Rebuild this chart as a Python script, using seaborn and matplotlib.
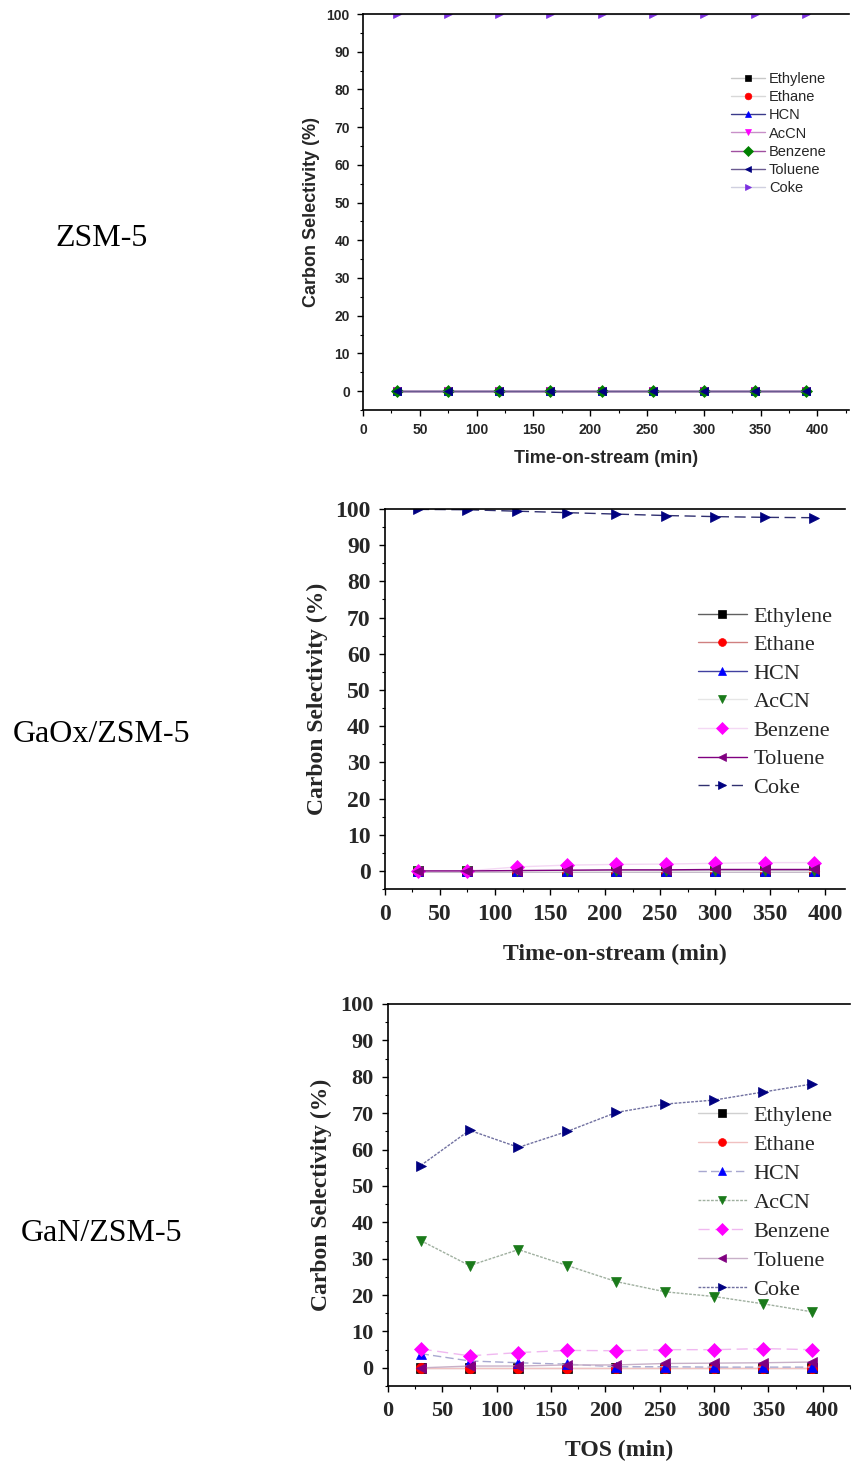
import numpy as np
import matplotlib
matplotlib.use("Agg")
import matplotlib.pyplot as plt
from matplotlib.ticker import MultipleLocator
import seaborn as sns

sns.set_theme(style="ticks")

# ---------------- data ----------------
tos = [30, 75, 120, 165, 210, 255, 300, 345, 390]
species = ["Ethylene", "Ethane", "HCN", "AcCN", "Benzene", "Toluene", "Coke"]
row_labels = ["ZSM-5", "GaOx/ZSM-5", "GaN/ZSM-5"]
xlabels = ["Time-on-stream (min)", "Time-on-stream (min)", "TOS (min)"]
ylabel = "Carbon Selectivity (%)"

zsm5_ethylene = [0, 0, 0, 0, 0, 0, 0, 0, 0]
zsm5_ethane = [0, 0, 0, 0, 0, 0, 0, 0, 0]
zsm5_hcn = [0, 0, 0, 0, 0, 0, 0, 0, 0]
zsm5_accn = [0, 0, 0, 0, 0, 0, 0, 0, 0]
zsm5_benzene = [0, 0, 0, 0, 0, 0, 0, 0, 0]
zsm5_toluene = [0, 0, 0, 0, 0, 0, 0, 0, 0]
zsm5_coke = [100, 100, 100, 100, 100, 100, 100, 100, 100]

gaox_ethylene = [0, 0, 0, 0, 0, 0, 0, 0, 0]
gaox_ethane = [0, 0, 0, 0, 0, 0, 0, 0, 0]
gaox_hcn = [0, 0, 0, 0, 0, 0, 0, 0, 0]
gaox_accn = [0, 0, 0, 0, 0, 0, 0, 0, 0]
gaox_benzene = [0, 0, 1.1, 1.6, 1.8, 1.9, 2.1, 2.3, 2.3]
gaox_toluene = [0, 0, 0.1, 0.2, 0.3, 0.3, 0.4, 0.4, 0.4]
gaox_coke = [99.9, 99.8, 99.4, 99.0, 98.6, 98.2, 97.9, 97.7, 97.6]

gan_ethylene = [0, 0, 0, 0, 0, 0, 0, 0, 0]
gan_ethane = [0, 0, 0, 0, 0, 0, 0, 0, 0]
gan_hcn = [3.9, 1.9, 1.4, 1.0, 0.3, 0.3, 0.2, 0.2, 0.2]
gan_accn = [35.0, 28.1, 32.5, 28.1, 23.7, 20.9, 19.6, 17.6, 15.4]
gan_benzene = [5.2, 3.3, 4.2, 4.8, 4.7, 5.0, 5.0, 5.3, 5.0]
gan_toluene = [0, 0.5, 0.5, 0.8, 0.8, 1.2, 1.3, 1.4, 1.6]
gan_coke = [55.6, 65.3, 60.6, 65.0, 70.2, 72.5, 73.6, 75.8, 78.0]

panels = [
    [zsm5_ethylene, zsm5_ethane, zsm5_hcn, zsm5_accn, zsm5_benzene, zsm5_toluene, zsm5_coke],
    [gaox_ethylene, gaox_ethane, gaox_hcn, gaox_accn, gaox_benzene, gaox_toluene, gaox_coke],
    [gan_ethylene, gan_ethane, gan_hcn, gan_accn, gan_benzene, gan_toluene, gan_coke],
]

# ---------------- styles ----------------
markers = ["s", "o", "^", "v", "D", "<", ">"]
marker_colors = [
    ["#000000", "#ff0000", "#0000ff", "#ff00ff", "#008000", "#000080", "#7b2fe0"],
    ["#000000", "#ff0000", "#0000ff", "#1a7a1a", "#ff00ff", "#800080", "#000080"],
    ["#000000", "#ff0000", "#0000ff", "#1a7a1a", "#ff00ff", "#800080", "#000080"],
]
line_colors = [
    ["#c8c8c8", "#d8d8d8", "#3a3a8a", "#c890c8", "#a050a0", "#6a5a90", "#d0d0e0"],
    ["#606060", "#d08080", "#4040a0", "#e6e6e6", "#f4d8f4", "#800080", "#303070"],
    ["#d0d0d0", "#f0c0c0", "#a8a8d0", "#a0b0a0", "#f0b8f0", "#c8b0c8", "#7070a0"],
]
line_styles = [
    ["-", "-", "-", "-", "-", "-", "-"],
    ["-", "-", "-", "-", "-", "-", (0, (8, 4))],
    ["-", "-", (0, (6, 3)), (0, (2, 1)), (0, (8, 4)), "-", (0, (2, 1))],
]
marker_sizes = [6.0, 7.5, 7.5]
legend_marker_scale = [0.8, 0.75, 0.75]
fonts = ["Liberation Sans", "Liberation Serif", "Liberation Serif"]
tick_fs = [10, 17, 16]
label_fs = [13, 17, 17]
legend_fs = [10.5, 16, 16]
legend_handlelen = [2.3, 2.2, 2.2]
xlims = [(0, 428), (0, 418), (0, 425)]
axes_rects = [
    [0.4256, 0.7194, 0.5700, 0.2710],
    [0.4513, 0.3915, 0.5393, 0.2601],
    [0.4549, 0.0513, 0.5416, 0.2615],
]
legend_anchor = [(0.857, 0.9505), (0.818, 0.5852), (0.818, 0.2437)]
legend_spacing = [0.28, 0.36, 0.38]
row_label_y = [0.837, 0.497, 0.156]
ylabel_pad = [5, 5, 6]
xlabel_pad = [9, 14, 14]
tick_pad = [5, 6, 6]

fig = plt.figure(figsize=(8.53, 14.61), dpi=100)

for p in range(3):
    ax = fig.add_axes(axes_rects[p])
    for s, name in enumerate(species):
        sns.lineplot(
            x=tos, y=panels[p][s], ax=ax, label=name,
            color=line_colors[p][s], linestyle=line_styles[p][s], linewidth=1.0,
            marker=markers[s], markersize=marker_sizes[p],
            markerfacecolor=marker_colors[p][s], markeredgecolor=marker_colors[p][s],
            markeredgewidth=0.5, estimator=None, clip_on=True,
        )
    ax.set_xlim(*xlims[p])
    ax.set_ylim(-5, 100)
    ax.xaxis.set_major_locator(MultipleLocator(50))
    ax.xaxis.set_minor_locator(MultipleLocator(25))
    ax.yaxis.set_major_locator(MultipleLocator(10))
    ax.yaxis.set_minor_locator(MultipleLocator(5))
    ax.tick_params(which="major", direction="out", length=4.5, width=1.0,
                   color="black", pad=tick_pad[p])
    ax.tick_params(which="minor", direction="out", length=2.5, width=0.8, color="black")
    ax.spines["right"].set_visible(False)
    for sp in ["left", "bottom", "top"]:
        ax.spines[sp].set_color("black")
        ax.spines[sp].set_linewidth(1.2)
    for lab in ax.get_xticklabels() + ax.get_yticklabels():
        lab.set_fontfamily(fonts[p])
        lab.set_fontweight("bold")
        lab.set_fontsize(tick_fs[p])
    ax.set_xlabel(xlabels[p], fontfamily=fonts[p], fontweight="bold",
                  fontsize=label_fs[p], labelpad=xlabel_pad[p])
    ax.set_ylabel(ylabel, fontfamily=fonts[p], fontweight="bold",
                  fontsize=label_fs[p], labelpad=ylabel_pad[p])
    ax.grid(False)
    ax.legend(
        loc="upper left", bbox_to_anchor=legend_anchor[p], bbox_transform=fig.transFigure,
        frameon=False, prop={"family": fonts[p], "size": legend_fs[p]},
        handlelength=legend_handlelen[p], handletextpad=0.3, labelspacing=legend_spacing[p],
        borderpad=0.0, borderaxespad=0.0, markerscale=legend_marker_scale[p],
    )
    fig.text(0.1196, row_label_y[p], row_labels[p], ha="center", va="center",
             fontfamily="Liberation Serif", fontsize=23, color="black")

fig.savefig("out.png", dpi=100, facecolor="white")
